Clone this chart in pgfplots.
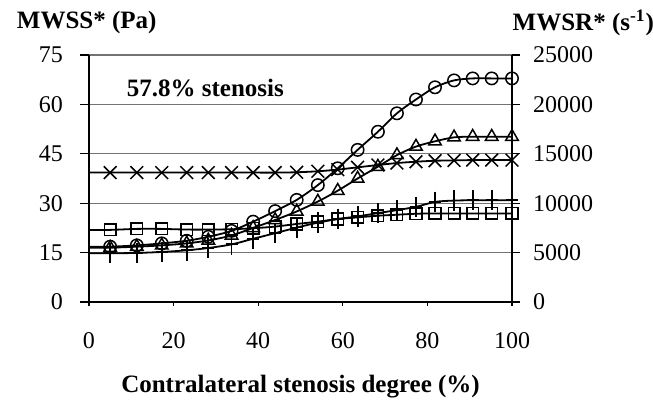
\documentclass[border=0pt]{standalone}
\usepackage{pgfplots}
\pgfplotsset{compat=1.18}
\usepackage{fontspec}
\setmainfont{Liberation Serif}

% MWSS* (Pa); first row at x=0 only carries the lines to the axis
\pgfplotstableread{
x     circ  tri   cross sq    plus
0     16.8  16.5  39.3  21.9  14.8
5.0   16.8  16.5  39.3  21.9  14.8
11.3  17.2  16.8  39.3  22.2  14.9
17.2  17.8  17.2  39.3  22.2  15.2
23.1  18.6  17.8  39.3  22.0  15.7
28.2  19.8  18.7  39.3  22.0  16.4
33.7  21.6  20.2  39.3  22.1  17.5
38.8  24.4  22.5  39.3  22.4  19.2
44.0  27.6  24.9  39.3  22.9  20.9
49.1  31.0  27.5  39.4  23.7  22.6
54.1  35.5  30.5  39.7  24.4  24.1
58.8  40.6  33.8  40.2  25.2  25.2
63.5  46.2  37.5  40.9  25.7  26.0
68.3  51.7  41.1  41.6  26.2  27.0
72.8  57.3  44.6  42.2  26.5  27.9
77.3  61.5  47.2  42.6  26.8  28.9
81.8  65.2  48.8  42.9  26.9  30.4
86.3  67.3  50.0  43.0  26.9  30.8
90.7  67.9  50.2  43.1  26.9  30.9
95.2  67.9  50.2  43.1  26.9  30.9
100   67.9  50.2  43.1  26.9  30.9
}\mwss

\begin{document}
\begin{tikzpicture}
\pgfplotsset{
  every axis/.append style={
    at={(0,0)}, anchor=south west,
    width=211.5pt, height=123.5pt, scale only axis,
    xmin=0, xmax=100,
    tick align=outside,
    axis line style={black, line width=0.8pt},
    tick style={black, line width=0.6pt},
    major tick length=4.5pt,
    /pgf/number format/assume math mode=true,
    ticklabel style={font=\fontsize{12}{14}\selectfont},
  },
}
\begin{axis}[
  ymin=0, ymax=75,
  xtick={0,20,...,100}, ytick={0,15,...,75},
  axis x line*=bottom, axis y line*=left,
  xtick style={/pgfplots/major tick length=2pt},
  ymajorgrids, grid style={black!55, line width=0.55pt},
  xticklabel style={yshift=-7pt},
  yticklabel style={xshift=-5pt},
  clip=false,
  every axis plot/.append style={black, line width=0.9pt, smooth,
    mark phase=2, mark repeat=1, mark options={solid, line width=0.75pt}},
]
\addplot[mark=o, mark size=3.1pt] table[x=x, y=circ] {\mwss};
\addplot[mark=triangle, mark size=3.6pt] table[x=x, y=tri] {\mwss};
\addplot[mark=x, mark size=4.5pt] table[x=x, y=cross] {\mwss};
\addplot[mark=square, mark size=2.9pt] table[x=x, y=sq] {\mwss};
\addplot[mark=+, mark size=3pt, mark options={yscale=1.7}] table[x=x, y=plus] {\mwss};

\node[anchor=west, font=\fontsize{12.5}{14}\selectfont\bfseries] at (axis cs:7.3,65) {57.8\% stenosis};
\node[anchor=west, font=\fontsize{12.5}{14}\selectfont\bfseries] at (axis description cs:-0.187,1.13) {MWSS* (Pa)};
\node[anchor=west, font=\fontsize{12.5}{14}\selectfont\bfseries] at (axis description cs:0.985,1.13) {MWSR* (s\textsuperscript{-1})};
\node[font=\fontsize{12.5}{14}\selectfont\bfseries] at (axis description cs:0.5,-0.344) {Contralateral stenosis degree (\%)};
\end{axis}
\begin{axis}[
  ymin=0, ymax=25000,
  ytick={0,5000,...,25000},
  axis y line*=right, axis x line=none,
  scaled y ticks=false,
  major tick length=4pt,
  yticklabel style={xshift=3pt, /pgf/number format/.cd, fixed, 1000 sep={}},
]
\end{axis}
\pgfresetboundingbox
\path[use as bounding box] (-44.5pt,-51pt) rectangle (282pt,151pt);
\end{tikzpicture}
\end{document}
